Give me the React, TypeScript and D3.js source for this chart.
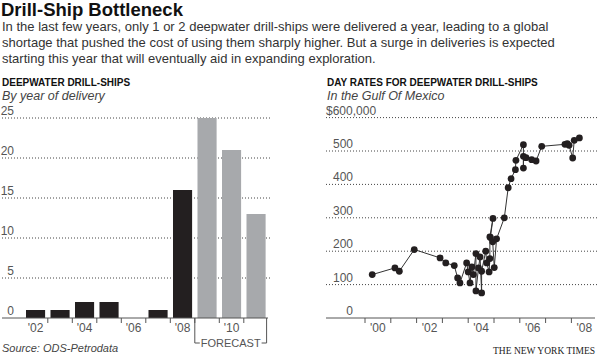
import * as d3 from "d3";

const W = 597;
const H = 359;

// left panel: drill-ships delivered per year
const years = [2002, 2003, 2004, 2005, 2006, 2007, 2008, 2009, 2010, 2011];
const deliveries = [1, 1, 2, 2, 0, 1, 16, 25, 21, 13];
const forecastFrom = 2009;
const barTicks = [0, 5, 10, 15, 20, 25];
const barYearLabels = [2002, 2004, 2006, 2008, 2010];

// right panel: day rates, thousands of dollars
const rateDates = [
  2000.28, 2001.16, 2001.33, 2001.91, 2002.91, 2003.13, 2003.46, 2003.59, 2003.68,
  2003.94, 2004.0, 2004.07, 2004.14, 2004.2, 2004.3, 2004.3, 2004.4, 2004.46,
  2004.52, 2004.52, 2004.68, 2004.72, 2004.81, 2004.84, 2004.84, 2004.96, 2004.86,
  2004.95, 2005.01, 2005.1, 2005.4, 2005.55, 2005.66, 2005.83, 2005.85, 2006.14,
  2006.14, 2006.14, 2006.24, 2006.46, 2006.63, 2006.85, 2007.75, 2007.84, 2007.91,
  2008.05, 2008.11, 2008.31,
];
const rateValues = [
  130, 150, 140, 205, 180, 165, 157, 120, 105,
  165, 138, 105, 153, 130, 193, 81, 150, 183,
  75, 140, 200, 165, 138, 178, 243, 298, 241,
  228, 151, 237, 300, 390, 417, 444, 472, 519,
  449, 484, 480, 474, 470, 514, 520, 522, 517,
  479, 532, 539,
];
const rateTicks = [0, 100, 200, 300, 400, 500, 600];
const rateYearTicks = [2000, 2001, 2002, 2003, 2004, 2005, 2006, 2007, 2008];
const rateYearLabels = [2000, 2002, 2004, 2006, 2008];

const SANS = "'Liberation Sans', Arial, Helvetica, sans-serif";
const INK = "#231f20";
const GRAY = "#a7a9ac";
const LABEL = "#555";

const yr = (y: number) => `'${String(y).slice(2)}`;

function BarPanel() {
  const x = d3
    .scaleBand<number>()
    .domain(years)
    .range([23.3, 268.3])
    .paddingInner(0.22)
    .paddingOuter(0.11);
  const y = d3.scaleLinear().domain([0, 25]).range([318, 118]);
  const gap = x.step() - x.bandwidth();
  const fx0 = x(forecastFrom)! - gap / 2;
  const fx1 = x(years[years.length - 1])! + x.bandwidth() + 1;

  return (
    <g fontFamily={SANS}>
      {barTicks.map((t) => (
        <g key={t}>
          {t > 0 && (
            <line x1={2} x2={270} y1={y(t)} y2={y(t)} stroke="#444" strokeWidth={1} strokeDasharray="1 2" />
          )}
          <text x={14} y={y(t) - 3} textAnchor="end" fontSize={12} fill={LABEL}>
            {t}
          </text>
        </g>
      ))}
      {years.map((yy, i) => (
        <rect
          key={yy}
          x={x(yy)}
          y={y(deliveries[i])}
          width={x.bandwidth()}
          height={y(0) - y(deliveries[i])}
          fill={yy >= forecastFrom ? GRAY : INK}
        />
      ))}
      <line x1={2} x2={268} y1={y(0)} y2={y(0)} stroke="#555" strokeWidth={1} />
      {years.slice(1).map((yy) => (
        <line
          key={yy}
          x1={x(yy)! - gap / 2}
          x2={x(yy)! - gap / 2}
          y1={y(0)}
          y2={y(0) + 5}
          stroke="#555"
        />
      ))}
      {barYearLabels.map((yy) => (
        <text key={yy} x={x(yy)! + x.bandwidth() / 2} y={332} textAnchor="middle" fontSize={12} fill={LABEL}>
          {yr(yy)}
        </text>
      ))}
      <path
        d={`M${fx0},${y(0)}V343H${fx0 + 5}M${fx1 - 5},343H${fx1}V${y(0)}`}
        fill="none"
        stroke="#555"
      />
      <text x={(fx0 + fx1) / 2} y={347} textAnchor="middle" fontSize={11} fill={LABEL}>
        FORECAST
      </text>
    </g>
  );
}

function RatePanel() {
  const x = d3.scaleLinear().domain([2000, 2009]).range([365, 597.2]);
  const y = d3.scaleLinear().domain([0, 600]).range([318, 117.6]);
  const pts = rateDates.map((d, i) => [x(d), y(rateValues[i])] as [number, number]);
  const line = d3.line();

  return (
    <g fontFamily={SANS}>
      {rateTicks.map((t) => (
        <g key={t}>
          {t > 0 && (
            <line x1={326} x2={597} y1={y(t)} y2={y(t)} stroke="#444" strokeWidth={1} strokeDasharray="1 2" />
          )}
          {t === 600 ? (
            <text x={326} y={y(t) - 3} fontSize={12} fill={LABEL}>
              $600,000
            </text>
          ) : (
            <text x={353} y={y(t) - 3} textAnchor="end" fontSize={12} fill={LABEL}>
              {t}
            </text>
          )}
        </g>
      ))}
      <line x1={326} x2={595} y1={y(0)} y2={y(0)} stroke="#555" />
      {rateYearTicks.map((t) => (
        <line key={t} x1={x(t)} x2={x(t)} y1={y(0)} y2={y(0) + 5} stroke="#555" />
      ))}
      {rateYearLabels.map((t) => (
        <text key={t} x={x(t + 0.5)} y={332} textAnchor="middle" fontSize={12} fill={LABEL}>
          {yr(t)}
        </text>
      ))}
      <path d={line(pts) ?? ""} fill="none" stroke="#333" strokeWidth={1} />
      {pts.map((p, i) => (
        <circle key={i} cx={p[0]} cy={p[1]} r={3.4} fill={INK} />
      ))}
    </g>
  );
}

export default function App() {
  return (
    <svg width={W} height={H} viewBox={`0 0 ${W} ${H}`} style={{ display: "block", background: "#fff" }}>
      <style>{`body{margin:0}`}</style>
      <text x={1} y={16} fontFamily={SANS} fontWeight="bold" fontSize={18.5} fill="#111">
        Drill-Ship Bottleneck
      </text>
      <g fontFamily={SANS} fontSize={13} fill="#333">
        <text x={2} y={31}>
          In the last few years, only 1 or 2 deepwater drill-ships were delivered a year, leading to a global
        </text>
        <text x={2} y={47}>
          shortage that pushed the cost of using them sharply higher. But a surge in deliveries is expected
        </text>
        <text x={2} y={63}>
          starting this year that will eventually aid in expanding exploration.
        </text>
      </g>
      <text x={2} y={86} fontFamily={SANS} fontWeight="bold" fontSize={10} fill="#111">
        DEEPWATER DRILL-SHIPS
      </text>
      <text x={2} y={100} fontFamily={SANS} fontStyle="italic" fontSize={12.5} fill="#444">
        By year of delivery
      </text>
      <text x={327} y={86} fontFamily={SANS} fontWeight="bold" fontSize={10} fill="#111">
        DAY RATES FOR DEEPWATER DRILL-SHIPS
      </text>
      <text x={327} y={100} fontFamily={SANS} fontStyle="italic" fontSize={12.5} fill="#444">
        In the Gulf Of Mexico
      </text>
      <BarPanel />
      <RatePanel />
      <text x={2} y={352} fontFamily={SANS} fontStyle="italic" fontSize={11} fill="#444">
        Source: ODS-Petrodata
      </text>
      <text x={595} y={354} textAnchor="end" fontFamily="'Liberation Serif', 'Times New Roman', serif" fontSize={9.5} fill="#222">
        THE NEW YORK TIMES
      </text>
    </svg>
  );
}
